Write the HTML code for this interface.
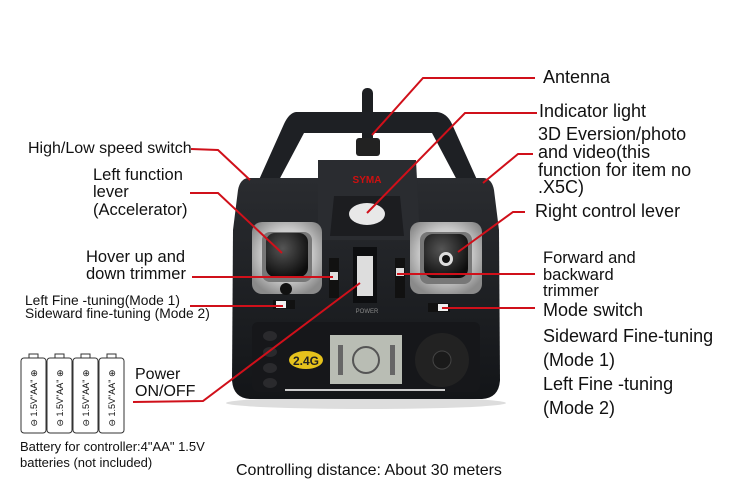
<!DOCTYPE html>
<html><head><meta charset="utf-8"><style>
html,body{margin:0;padding:0;background:#fff;}
svg{display:block;}
text{font-family:"Liberation Sans",Arial,sans-serif;fill:#111;}
</style></head><body>
<svg width="729" height="484" viewBox="0 0 729 484" xmlns="http://www.w3.org/2000/svg">
<defs>
<radialGradient id="gim" cx="50%" cy="45%" r="60%"><stop offset="0" stop-color="#fff"/><stop offset="0.6" stop-color="#c9c9c9"/><stop offset="1" stop-color="#8a8a8a"/></radialGradient>
<radialGradient id="stick" cx="40%" cy="35%" r="70%"><stop offset="0" stop-color="#555"/><stop offset="1" stop-color="#0c0c0c"/></radialGradient>
<linearGradient id="body" x1="0" y1="0" x2="0" y2="1"><stop offset="0" stop-color="#2a2c30"/><stop offset="1" stop-color="#131518"/></linearGradient>
</defs>
<ellipse cx="366" cy="403" rx="140" ry="6" fill="#ddd"/>
<rect x="362" y="88" width="11" height="65" rx="5" fill="#1d1f22"/>
<rect x="356" y="138" width="24" height="18" rx="3" fill="#222"/>
<path d="M296 112 L437 112 Q447 113 452 124 L478 182 L458 182 L432 133 L304 133 L278 182 L258 182 L284 124 Q289 113 296 112 Z" fill="#1e2024"/>
<path d="M248 178 Q240 179 238 190 L233 230 L232 380 Q233 398 250 399 L482 399 Q499 398 500 380 L499 230 L494 190 Q492 179 484 178 Z" fill="url(#body)"/>
<path d="M318 160 L416 160 L420 240 L318 240 Z" fill="#2a2c30"/>
<path d="M334 196 L400 196 L404 236 L330 236 Z" fill="#1c1d20"/>
<text x="367" y="183" font-size="10" font-weight="bold" style="fill:#d01010" text-anchor="middle">SYMA</text>
<ellipse cx="367" cy="214" rx="18" ry="11" fill="#e8e8e8"/>
<rect x="252" y="222" width="70" height="72" rx="10" fill="url(#gim)"/>
<rect x="262" y="232" width="50" height="50" rx="8" fill="#777"/>
<rect x="266" y="233" width="42" height="44" rx="9" fill="url(#stick)"/>
<circle cx="286" cy="289" r="6" fill="#111"/>
<rect x="410" y="222" width="72" height="72" rx="10" fill="url(#gim)"/>
<rect x="420" y="232" width="52" height="52" rx="8" fill="#777"/>
<rect x="424" y="234" width="44" height="44" rx="9" fill="url(#stick)"/>
<circle cx="446" cy="259" r="7" fill="#ddd"/><circle cx="446" cy="259" r="4" fill="#111"/>
<rect x="329" y="258" width="10" height="40" fill="#111"/><rect x="330" y="272" width="8" height="8" fill="#ddd"/>
<rect x="395" y="258" width="10" height="40" fill="#111"/><rect x="396" y="268" width="8" height="8" fill="#ddd"/>
<rect x="273" y="300" width="22" height="9" fill="#111"/><rect x="276" y="301" width="10" height="7" fill="#eee"/>
<rect x="428" y="303" width="22" height="9" fill="#111"/><rect x="438" y="304" width="10" height="7" fill="#eee"/>
<rect x="353" y="247" width="24" height="56" fill="#0d0e10"/>
<rect x="357" y="256" width="16" height="40" fill="#ddd"/>
<text x="367" y="313" font-size="6" style="fill:#888" text-anchor="middle">POWER</text>
<rect x="252" y="322" width="228" height="70" rx="6" fill="#16171a"/>
<rect x="330" y="335" width="72" height="49" fill="#b9bdb4"/>
<circle cx="366" cy="360" r="13" fill="none" stroke="#555" stroke-width="2"/>
<rect x="338" y="345" width="5" height="30" fill="#666"/><rect x="390" y="345" width="5" height="30" fill="#666"/>
<ellipse cx="306" cy="360" rx="17" ry="9" fill="#e6c21c"/>
<text x="306" y="365" font-size="12" font-weight="bold" text-anchor="middle" style="fill:#222">2.4G</text>
<circle cx="442" cy="360" r="27" fill="#222"/><circle cx="442" cy="360" r="9" fill="#1a1a1a" stroke="#444"/>
<ellipse cx="270" cy="336" rx="7" ry="5" fill="#2a2a2d"/><ellipse cx="270" cy="352" rx="7" ry="5" fill="#2a2a2d"/><ellipse cx="270" cy="368" rx="7" ry="5" fill="#2a2a2d"/><ellipse cx="270" cy="383" rx="7" ry="5" fill="#2a2a2d"/>
<rect x="285" y="389" width="160" height="2" fill="#ccc"/>
<g stroke="#d0101a" stroke-width="2" fill="none">
<polyline points="372,135 423,78 535,78"/>
<polyline points="367,213 465,113 537,113"/>
<polyline points="483,183 518,154 533,154"/>
<polyline points="458,252 513,212 525,212"/>
<polyline points="397,274 535,274"/>
<polyline points="442,308 535,308"/>
<polyline points="191,149 218,150 250,180"/>
<polyline points="190,193 218,193 282,253"/>
<polyline points="192,277 333,277"/>
<polyline points="190,306 283,306"/>
<polyline points="133,402 203,401 360,283"/>
</g>
<g font-size="18">
<text x="543" y="83">Antenna</text>
<text x="539" y="117">Indicator light</text>
<text x="538" y="140">3D Eversion/photo</text>
<text x="538" y="158">and video(this</text>
<text x="538" y="176">function for item no</text>
<text x="538" y="193">.X5C)</text>
<text x="535" y="217">Right control lever</text>
<text x="543" y="316">Mode switch</text>
<text x="543" y="342">Sideward Fine-tuning</text>
<text x="543" y="366">(Mode 1)</text>
<text x="543" y="390">Left Fine -tuning</text>
<text x="543" y="414">(Mode 2)</text>
</g>
<g font-size="16.5">
<text x="543" y="263">Forward and</text>
<text x="543" y="280">backward</text>
<text x="543" y="296">trimmer</text>
</g>
<text x="28" y="153" font-size="16">High/Low speed switch</text>
<g font-size="16.5">
<text x="93" y="180">Left function</text>
<text x="93" y="197">lever</text>
<text x="93" y="215">(Accelerator)</text>
<text x="86" y="262">Hover up and</text>
<text x="86" y="279">down trimmer</text>
</g>
<text x="25" y="305" font-size="13.8">Left Fine -tuning(Mode 1)</text>
<text x="25" y="318" font-size="13.8">Sideward fine-tuning (Mode 2)</text>
<g font-size="16"><text x="135" y="379">Power</text><text x="135" y="396">ON/OFF</text></g>
<g stroke="#333" stroke-width="1" fill="#fff">
<rect x="21" y="358" width="25" height="75" rx="3"/><rect x="47" y="358" width="25" height="75" rx="3"/>
<rect x="73" y="358" width="25" height="75" rx="3"/><rect x="99" y="358" width="25" height="75" rx="3"/>
<rect x="29" y="354" width="9" height="4"/><rect x="55" y="354" width="9" height="4"/><rect x="81" y="354" width="9" height="4"/><rect x="107" y="354" width="9" height="4"/>
</g>
<g font-size="9">
<text transform="translate(37,398) rotate(-90)" text-anchor="middle">⊖ 1.5V"AA" ⊕</text>
<text transform="translate(63,398) rotate(-90)" text-anchor="middle">⊖ 1.5V"AA" ⊕</text>
<text transform="translate(89,398) rotate(-90)" text-anchor="middle">⊖ 1.5V"AA" ⊕</text>
<text transform="translate(115,398) rotate(-90)" text-anchor="middle">⊖ 1.5V"AA" ⊕</text>
</g>
<text x="20" y="451" font-size="13">Battery for controller:4"AA" 1.5V</text>
<text x="20" y="467" font-size="13">batteries (not included)</text>
<text x="236" y="475" font-size="16">Controlling distance: About 30 meters</text>
</svg>
</body></html>
